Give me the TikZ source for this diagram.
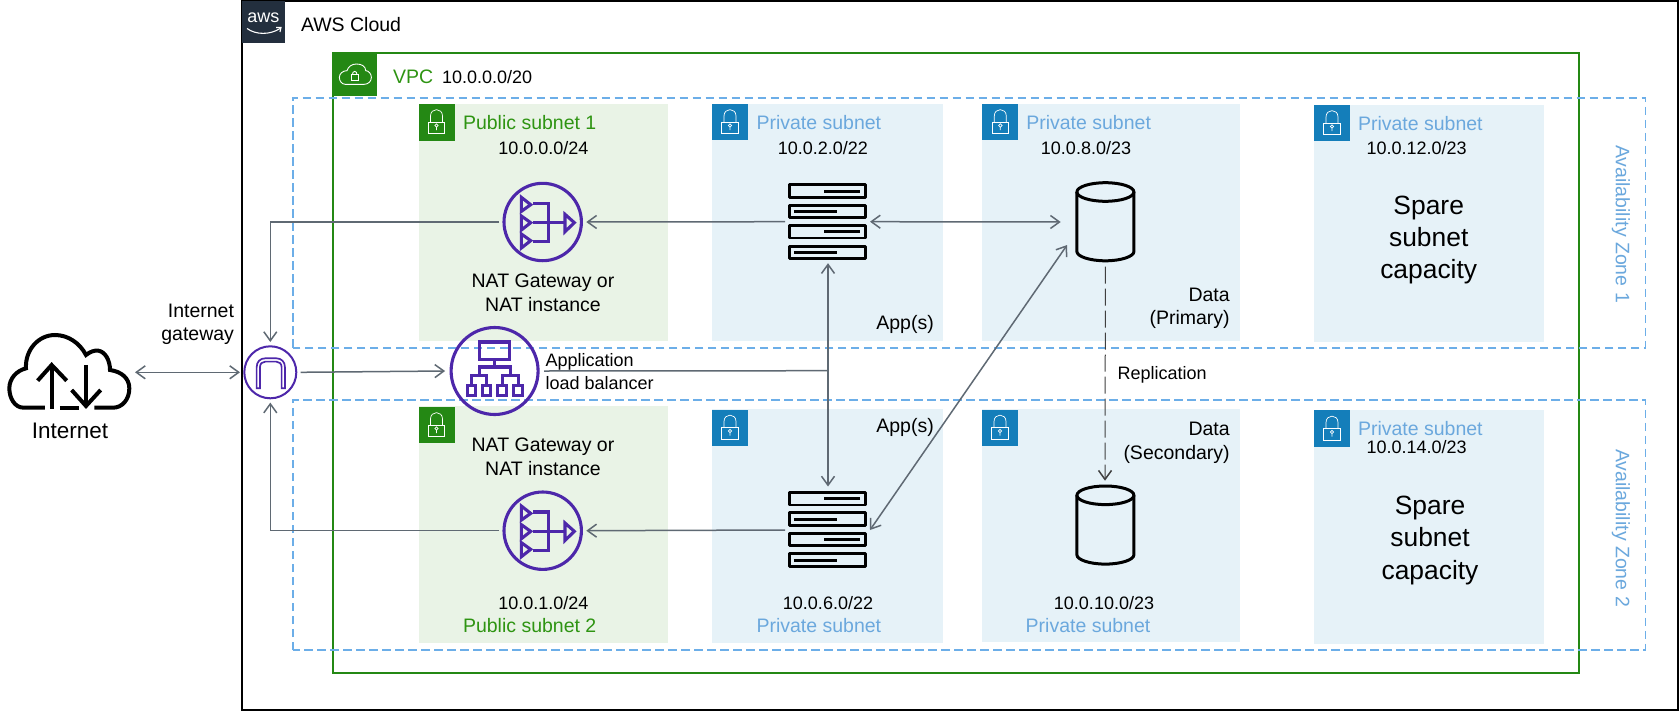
\documentclass[tikz,border=0pt]{standalone}
\usepackage{fontspec}
\setmainfont{Liberation Sans}
\usetikzlibrary{arrows.meta}
\definecolor{awsnavy}{HTML}{232F3E}
\definecolor{vpcgreen}{HTML}{248814}
\definecolor{pubtext}{HTML}{2E9412}
\definecolor{pubfill}{HTML}{E9F3E6}
\definecolor{privfill}{HTML}{E6F2F8}
\definecolor{privicon}{HTML}{147EBA}
\definecolor{privtext}{HTML}{6BA8DD}
\definecolor{azdash}{HTML}{6CAEE8}
\definecolor{iconpurple}{HTML}{4D27AA}
\definecolor{linkgrey}{HTML}{5F6973}
\tikzset{
  x=1pt,y=-1pt,
  txt/.style={inner sep=0pt,outer sep=0pt,text=black,font=\fontsize{19.5pt}{23.6pt}\selectfont,align=center},
  small/.style={txt,font=\fontsize{18pt}{22.6pt}\selectfont},
  spare/.style={txt,font=\fontsize{26.4pt}{32.1pt}\selectfont},
  pub/.style={txt,text=pubtext,anchor=west},
  priv/.style={txt,text=privtext,anchor=west},
  az/.style={txt,text=privtext,rotate=-90},
  panelpub/.style={fill=pubfill,draw=none},
  panelpriv/.style={fill=privfill,draw=none},
  azbox/.style={draw=azdash,line width=1.8pt,dash pattern=on 8.5pt off 4.5pt},
  link/.style={draw=linkgrey,line width=1.5pt,-{Straight Barb[length=9pt,width=13pt,line width=1.5pt]}},
  dlink/.style={draw=linkgrey,line width=1.5pt,{Straight Barb[length=9pt,width=13pt,line width=1.5pt]}-{Straight Barb[length=9pt,width=13pt,line width=1.5pt]}},
  plain/.style={draw=linkgrey,line width=1.5pt},
  ghost/.style={draw=none,inner sep=0pt,outer sep=0pt},
  purplecircle/.style={circle,draw=iconpurple,inner sep=0pt},
  icon/.style={draw=iconpurple,line width=3.1pt,line join=miter},
  lockicon/.pic={
    \draw[white,line width=.7pt] (-8.3,0) rectangle (8.3,11.7);
    \draw[white,line width=.7pt] (-6,0) -- (-6,-6) .. controls (-6,-14.5) and (6,-14.5) .. (6,-6) -- (6,0);
    \draw[white,line width=.7pt] (0,3.5) circle (1.7) (0,5.2) -- (0,8.2);
  },
  natglyph/.pic={
    \begin{scope}[x=.3333pt,y=-.3333pt]
    \draw[icon] (-64,-74) -- (-36,-52) -- (-64,-32) -- cycle;
    \draw[icon] (-64,-18) -- (-36,2) -- (-64,24) -- cycle;
    \draw[icon] (-64,36) -- (-36,56) -- (-64,78) -- cycle;
    \draw[icon] (-28,-56) -- (17,-56) -- (17,59) -- (-28,59);
    \draw[icon] (-28,2) -- (67,2);
    \draw[icon] (67,-23) -- (95,2) -- (67,29) -- cycle;
    \end{scope}
  },
  albglyph/.pic={
    \begin{scope}[x=.3333pt,y=-.3333pt]
    \draw[icon] (-46,-87) rectangle (46,-34);
    \draw[icon] (0,-34) -- (0,-12);
    \draw[icon] (-46,13) -- (-46,-12) -- (48,-12) -- (48,13);
    \draw[icon] (-69,43) -- (-69,13) -- (-24,13) -- (-24,43);
    \draw[icon] (23,43) -- (23,13) -- (71,13) -- (71,43);
    \draw[icon] (-82,43) rectangle (-56,73);
    \draw[icon] (-37,43) rectangle (-11,73);
    \draw[icon] (10,43) rectangle (36,73);
    \draw[icon] (58,43) rectangle (84,73);
    \end{scope}
  },
  igwglyph/.pic={
    \begin{scope}[x=.3333pt,y=-.3333pt]
    \draw[iconpurple,line width=1.7pt] (-41,48) -- (-41,-15) .. controls (-41,-32) and (-30,-42) .. (-15,-42) -- (18,-42) .. controls (33,-42) and (44,-32) .. (44,-15) -- (44,48) -- (34,48) -- (34,-15) .. controls (34,-26) and (27,-32) .. (18,-32) -- (-15,-32) .. controls (-24,-32) and (-31,-26) .. (-31,-15) -- (-31,48) -- cycle;
    \end{scope}
  },
  serverglyph/.pic={
    \foreach \yy/\xa/\xb in {-30.7/-3.5/32.5,-10.3/-33.7/9,10.0/-3.5/32.5,30.7/-33.7/9}{
      \draw[black,line width=2.8pt,line join=round] (-37.9,\yy-6.3) rectangle (37.9,\yy+6.3);
      \draw[black,line width=3pt] (\xa,\yy) -- (\xb,\yy);
    }
  },
  dbglyph/.pic={
    \draw[black,line width=3pt] (0,-29.7) ellipse [x radius=28.5,y radius=9.3];
    \draw[black,line width=3pt] (-28.5,-29.7) -- (-28.5,29.8) .. controls (-28.5,34.8) and (-15.7,39.1) .. (0,39.1) .. controls (15.7,39.1) and (28.5,34.8) .. (28.5,29.8) -- (28.5,-29.7);
  }
}
\begin{document}
\begin{tikzpicture}
\useasboundingbox (0,0) rectangle (1680,712);
\fill[white] (0,0) rectangle (1680,712);

% subnet panels
\fill[panelpub]  (418.5,104) rectangle (667.8,341);
\fill[panelpriv] (712,104) rectangle (942.8,341);
\fill[panelpriv] (982.3,104) rectangle (1240,341);
\fill[panelpriv] (1314,105) rectangle (1544,341.7);
\fill[panelpub]  (418.5,406) rectangle (667.8,642.7);
\fill[panelpriv] (712,409) rectangle (942.5,642.7);
\fill[panelpriv] (981.7,409) rectangle (1240,642);
\fill[panelpriv] (1314,410) rectangle (1544,643.7);

% containers
\draw[black,line width=2pt] (242,1) rectangle (1678,710);
\draw[vpcgreen,line width=2pt] (333,52.5) rectangle (1579,673);
\draw[azbox] (292.7,347.7) -- (292.7,97.7) -- (1645.5,97.7) -- (1645.5,347.7) -- cycle;
\draw[azbox] (292.7,650) -- (292.7,400.3) -- (1645.5,400.3) -- (1645.5,650) -- cycle;

% corner icons
\fill[awsnavy] (242,1) rectangle (284.7,43);
\node[ghost,text=white,font=\fontsize{18pt}{22pt}\selectfont] (awslogo) at (263.3,17.5) {aws};
\draw[white,line width=1.1pt] (247,28.5) .. controls (256,35) and (270,35) .. (280,28.5);
\draw[white,line width=1.1pt] (276,27.5) -- (281,27.5) -- (280,32);
\fill[vpcgreen] (333,52.5) rectangle (376.5,96);
\begin{scope}[shift={(354.7,74)},x=.3333pt,y=-.3333pt]
  \draw[white,line width=.9pt] (-28,31) -- (28,31) .. controls (42,31) and (50,21) .. (50,10) .. controls (50,0) and (42,-10) .. (33,-10) .. controls (33,-24) and (20,-30) .. (5,-30) .. controls (-8,-30) and (-20,-22) .. (-23,-10) .. controls (-36,-10) and (-46,-1) .. (-46,10) .. controls (-46,22) and (-38,31) .. (-28,31) -- cycle;
  \draw[white,line width=.9pt] (-11,2) rectangle (11,18);
  \draw[white,line width=.9pt] (-7,2) .. controls (-7,-11) and (7,-11) .. (7,2);
\end{scope}
\fill[vpcgreen] (418.5,104) rectangle (454.5,141);
\pic at (436.5,122) {lockicon};
\fill[vpcgreen] (418.5,407.3) rectangle (454.5,443.3);
\pic at (436.5,425) {lockicon};
\fill[privicon] (712,104) rectangle (748,140);
\pic at (730,122) {lockicon};
\fill[privicon] (982.3,104) rectangle (1018.3,140);
\pic at (1000.3,122) {lockicon};
\fill[privicon] (1314,105) rectangle (1350,141);
\pic at (1332,123) {lockicon};
\fill[privicon] (712,409.7) rectangle (748,445.7);
\pic at (730,427.5) {lockicon};
\fill[privicon] (982,409.7) rectangle (1018,445.7);
\pic at (1000,427.5) {lockicon};
\fill[privicon] (1314,410) rectangle (1350,446.7);
\pic at (1332,428.5) {lockicon};

% container labels
\node[txt,anchor=west] (awslabel) at (301,25) {AWS Cloud};
\node[pub] (vpclabel) at (393,77) {VPC};
\node[small,anchor=west] (vpccidr) at (442,77) {10.0.0.0/20};
\node[az] (az1) at (1621,224) {Availability Zone 1};
\node[az] (az2) at (1621,528) {Availability Zone 2};

% subnet labels
\node[pub] (pub1) at (463,122.7) {Public subnet 1};
\node[small] (pub1cidr) at (543.4,148) {10.0.0.0/24};
\node[priv] (priv1) at (756.5,122.7) {Private subnet};
\node[small] (priv1cidr) at (822.9,148) {10.0.2.0/22};
\node[priv] (priv2) at (1026.3,122.7) {Private subnet};
\node[small] (priv2cidr) at (1086,148) {10.0.8.0/23};
\node[priv] (priv3) at (1358,123.7) {Private subnet};
\node[small] (priv3cidr) at (1416.6,148) {10.0.12.0/23};
\node[pub] (pub2) at (463,626) {Public subnet 2};
\node[small] (pub2cidr) at (543.4,603) {10.0.1.0/24};
\node[priv] (priv4) at (756.5,626) {Private subnet};
\node[small] (priv4cidr) at (828,603) {10.0.6.0/22};
\node[priv] (priv5) at (1025.7,626) {Private subnet};
\node[small] (priv5cidr) at (1104,603) {10.0.10.0/23};
\node[priv] (priv6) at (1358,428.7) {Private subnet};
\node[small] (priv6cidr) at (1416.6,447.3) {10.0.14.0/23};

\node[spare] (spare1) at (1428.7,240) {Spare\\subnet\\capacity};
\node[spare] (spare2) at (1430,540.5) {Spare\\subnet\\capacity};

\node[txt] (natlabel1) at (543,293) {NAT Gateway or\\NAT instance};
\node[txt] (natlabel2) at (543,456.7) {NAT Gateway or\\NAT instance};
\node[txt,align=right,anchor=east] (app1label) at (933.8,324) {App(s)};
\node[txt,align=right,anchor=east] (app2label) at (933.8,427.3) {App(s)};
\node[txt,align=right,anchor=east] (data1label) at (1229.7,308.3) {Data\\(Primary)};
\node[txt,align=right,anchor=east] (data2label) at (1229.7,443) {Data\\(Secondary)};
\node[small,align=left,anchor=west] (alblabel) at (545.5,371.5) {Application\\load balancer};
\node[small,anchor=west] (repllabel) at (1117.5,374.7) {Replication};
\node[txt,align=right,anchor=east] (igwlabel) at (234,324.3) {Internet\\gateway};
\node[txt,font=\fontsize{22.5pt}{27pt}\selectfont] (netlabel) at (70,431) {Internet};

% internet cloud
\begin{scope}[shift={(0,310)},x=.3333pt,y=-.3333pt]
  \draw[black,line width=4pt,line cap=butt] (135,293) -- (70,293) .. controls (45,293) and (28,265) .. (28,235) .. controls (28,205) and (50,182) .. (78,175) .. controls (75,120) and (115,75) .. (165,75) .. controls (205,75) and (240,100) .. (258,135) .. controls (270,125) and (285,120) .. (295,122) .. controls (315,125) and (330,150) .. (330,180) .. controls (365,185) and (388,205) .. (388,235) .. controls (388,270) and (365,293) .. (340,293) -- (283,293);
  \draw[black,line width=4pt] (180,293) -- (237,293);
  \draw[black,line width=4pt] (155,297) -- (155,165);
  \draw[black,line width=4pt] (113,212) -- (155,165) -- (200,212);
  \draw[black,line width=4pt] (258,165) -- (258,288);
  \draw[black,line width=4pt] (215,240) -- (258,288) -- (302,240);
\end{scope}
\node[ghost,minimum width=130pt,minimum height=80pt] (internet) at (70,372.3) {};

% gateway / balancer / nat circles
\node[purplecircle,line width=2pt,minimum size=52pt,outer sep=4.3pt] (igw) at (270.3,372.3) {};
\pic at (270.3,372.3) {igwglyph};
\node[purplecircle,line width=3.1pt,minimum size=87pt,outer sep=6pt] (alb) at (494.6,371) {};
\pic at (494.6,371) {albglyph};
\node[purplecircle,line width=3.1pt,minimum size=77.4pt,outer sep=4.9pt] (nat1) at (542.7,222) {};
\pic at (542.7,222) {natglyph};
\node[purplecircle,line width=3.1pt,minimum size=77.4pt,outer sep=4.9pt] (nat2) at (542.7,530.7) {};
\pic at (542.7,530.7) {natglyph};

% servers
\node[ghost,minimum width=85pt,minimum height=83pt] (app1) at (827.5,221.7) {};
\pic at (827.5,221.7) {serverglyph};
\node[ghost,minimum width=85pt,minimum height=87pt] (app2) at (827.5,530) {};
\pic at (827.5,529.4) {serverglyph};

% databases
\node[circle,ghost,minimum size=89.4pt] (db1) at (1105.4,222) {};
\pic at (1105.4,221.7) {dbglyph};
\node[circle,ghost,minimum size=88.6pt] (db2) at (1105,525) {};
\pic at (1105.4,525) {dbglyph};

% connectors
\coordinate (junc) at (828,370.7);
\draw[dlink] (internet.east) -- (igw.west);
\draw[link] (nat1.west) -| (igw.north);
\draw[link] (nat2.west) -| (igw.south);
\draw[link] (igw.east) -- (alb.west);
\draw[plain] (alb.east) -- (junc);
\draw[link] (junc) -- (junc |- app1.south);
\draw[link] (junc) -- (junc |- app2.north);
\draw[link] (app1.west) -- (nat1.east);
\draw[link] (app2.west) -- (nat2.east);
\draw[dlink] (app1.east) -- (db1.west);
\draw[dlink] (db1.211) -- (app2.east);
\draw[link,draw=black!75,line width=1pt,dash pattern=on 17pt off 5pt] (db1.south) -- (db2.north);
\end{tikzpicture}
\end{document}
